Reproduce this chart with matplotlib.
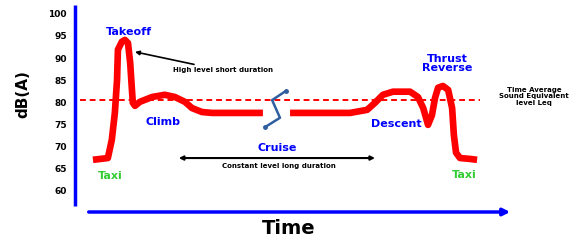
import matplotlib.pyplot as plt

# flight noise profile (time in arbitrary units, level in dB(A))
climb_t = [4.1, 7.5, 8.4, 9.1, 9.6, 9.8, 10.7, 11.4, 12.1, 12.6, 13.0, 13.2, 13.7, 14.8,
           17.6, 20.5, 22.8, 25.1, 26.7, 29.0, 31.3, 42.9]
climb_db = [67.0, 67.4, 71.5, 77.6, 85.1, 91.9, 93.7, 94.1, 93.4, 88.9, 82.8, 79.9, 79.2, 80.1,
            81.2, 81.7, 81.2, 80.1, 78.7, 77.8, 77.6, 77.6]
landing_t = [49.1, 62.8, 66.7, 68.5, 70.3, 72.6, 76.5, 78.3, 79.5, 80.4, 80.6, 81.5, 82.2,
             82.9, 84.0, 85.2, 86.1, 86.5, 87.0, 87.9, 90.2, 91.8]
landing_db = [77.6, 77.6, 78.3, 79.9, 81.7, 82.4, 82.4, 81.2, 78.7, 75.6, 74.9, 77.1, 81.0,
              83.3, 83.7, 82.8, 78.7, 72.6, 68.6, 67.4, 67.2, 67.0]
break_t = [48.2, 45.0, 46.8, 43.4]
break_db = [82.6, 80.5, 76.5, 74.4]
leq = 80.5
yticks = [100, 95, 90, 85, 80, 75, 70, 65, 60]

RED = "#ff0000"
BLUE = "#0000ff"
GREEN = "#33cc33"

fig = plt.figure(figsize=(5.81, 2.4), dpi=100)
ax = fig.add_axes([75 / 581, 28 / 240, 438 / 581, 207 / 240])
ax.set_xlim(0, 100)
ax.set_ylim(55.2, 102.0)
for s in ax.spines.values():
    s.set_visible(False)
ax.set_xticks([])
ax.set_yticks(yticks)
ax.set_yticklabels([str(v) for v in yticks], fontsize=6.5, fontweight="bold")
ax.tick_params(axis="y", length=0, pad=6)

# axes drawn by hand: plain y line, x line with arrow
ax.plot([0, 0], [56.6, 102.0], color=BLUE, lw=2.5, clip_on=False, solid_capstyle="butt")
ax.annotate("", xy=(100, 55.2), xytext=(2.5, 55.2), xycoords="data",
            arrowprops=dict(arrowstyle="-|>", color=BLUE, lw=2.5, mutation_scale=10),
            annotation_clip=False)

# leq line
ax.plot([1.2, 92.5], [leq, leq], color=RED, lw=1.4, ls=(0, (3, 2)))

# profile
ax.plot(climb_t, climb_db, color=RED, lw=4.8, solid_joinstyle="round", solid_capstyle="butt")
ax.plot(landing_t, landing_db, color=RED, lw=4.8, solid_joinstyle="round", solid_capstyle="butt")
ax.plot(break_t, break_db, color="#2f5f9f", lw=1.8, marker="o", markersize=2.5,
        markevery=[0, 3])

# labels
ax.text(12.4, 95.8, "Takeoff", color=BLUE, fontsize=8, fontweight="bold", ha="center", va="center")
ax.text(20.0, 75.5, "Climb", color=BLUE, fontsize=8, fontweight="bold", ha="center", va="center")
ax.text(46.1, 69.6, "Cruise", color=BLUE, fontsize=8, fontweight="bold", ha="center", va="center")
ax.text(73.3, 75.0, "Descent", color=BLUE, fontsize=8, fontweight="bold", ha="center", va="center")
ax.text(85.0, 88.8, "Thrust\nReverse", color=BLUE, fontsize=8, fontweight="bold",
        ha="center", va="center", linespacing=0.95)
ax.text(8.0, 63.3, "Taxi", color=GREEN, fontsize=8, fontweight="bold", ha="center", va="center")
ax.text(88.8, 63.5, "Taxi", color=GREEN, fontsize=8, fontweight="bold", ha="center", va="center")

ax.annotate("High level short duration", xy=(13.7, 91.4), xytext=(22.3, 87.2),
            fontsize=5, fontweight="bold", va="center", ha="left",
            arrowprops=dict(arrowstyle="-|>", color="black", lw=1.2, mutation_scale=6,
                            shrinkA=1, shrinkB=0))
ax.annotate("", xy=(68.5, 67.4), xytext=(23.7, 67.4),
            arrowprops=dict(arrowstyle="<|-|>", color="black", lw=1.5, mutation_scale=6,
                            shrinkA=0, shrinkB=0))
ax.text(46.6, 65.5, "Constant level long duration", fontsize=5, fontweight="bold",
        ha="center", va="center")
ax.text(104.8, 81.4, "Time Average\nSound Equivalent\nlevel Leq", fontsize=5,
        fontweight="bold", ha="center", va="center", linespacing=1.1)

fig.text(23 / 581, 1 - 94 / 240, "dB(A)", rotation=90, fontsize=11, fontweight="bold",
         ha="center", va="center")
fig.text(289 / 581, 1 - 229 / 240, "Time", fontsize=14, fontweight="bold", ha="center", va="center")

fig.savefig("out.png", dpi=100)
